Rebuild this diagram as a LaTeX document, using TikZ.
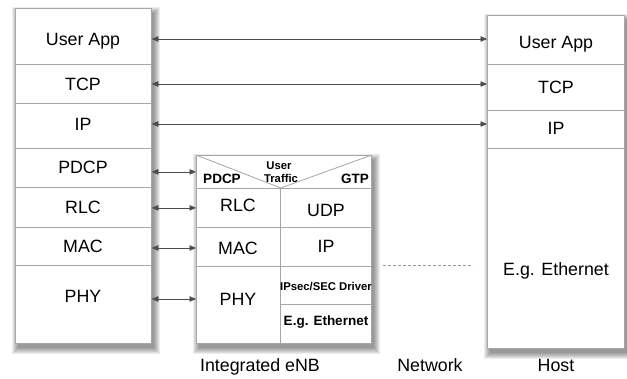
\documentclass[tikz,border=0pt]{standalone}
\usepackage{fontspec}
\setmainfont{Liberation Sans}
\usetikzlibrary{arrows.meta}
\tikzset{
  cell/.style={draw=black!35, fill=white, line width=0.8pt, inner sep=0pt, anchor=north west},
  outer/.style={inner sep=0pt, anchor=north west},
  txt/.style={inner sep=0pt, text height=12.7pt, text depth=0pt, text=black, font=\fontsize{17.8}{20}\selectfont},
  smallb/.style={txt, text height=9.7pt, font=\fontsize{13.5}{15}\selectfont\bfseries},
  tinyb/.style={txt, text height=8.1pt, font=\fontsize{11.3}{13}\selectfont\bfseries},
  arr/.style={{Triangle[length=6.5pt,width=5.5pt]}-{Triangle[length=6.5pt,width=5.5pt]}, draw=black!70, line width=0.6pt},
  divline/.style={draw=black!35, line width=0.8pt},
  netline/.style={draw=black!40, line width=0.8pt, dash pattern=on 3pt off 2pt},
  shadowlayer/.style={fill=black, opacity=0.07}
}
\newcommand\mkbox[6]{\node[#6, minimum width={(#4-#2)*1pt}, minimum height={(#5-#3)*1pt}] (#1) at (#2,#3) {};}
\newcommand\softshadow[1]{%
  \foreach \e in {6,5,4,3,2,1,0}{%
    \fill[shadowlayer] ([xshift={(3-\e)*1pt}, yshift={(-5+\e)*1pt}]#1.north west) rectangle ([xshift={(3+\e)*1pt}, yshift={(-5-\e)*1pt}]#1.south east);
  }}
\begin{document}
\begin{tikzpicture}[x=1pt,y=-1pt]
\useasboundingbox (0,0) rectangle (627,379);
% outer boxes (extent only) and their shadows
\mkbox{lstack}{15}{8}{151}{343}{outer}
\mkbox{enb}{196}{155}{371}{343}{outer}
\mkbox{host}{487}{15}{624}{348}{outer}
\softshadow{lstack}
\softshadow{enb}
\softshadow{host}
% left stack cells
\mkbox{lua}{15}{8}{151}{64}{cell}
\mkbox{ltcp}{15}{64}{151}{103}{cell}
\mkbox{lip}{15}{103}{151}{148}{cell}
\mkbox{lpdcp}{15}{148}{151}{187}{cell}
\mkbox{lrlc}{15}{187}{151}{227}{cell}
\mkbox{lmac}{15}{227}{151}{265}{cell}
\mkbox{lphy}{15}{265}{151}{343}{cell}
% middle cells
\mkbox{mtop}{196}{155}{371}{188}{cell}
\mkbox{mrlc}{196}{188}{280}{227}{cell}
\mkbox{mmac}{196}{227}{280}{266}{cell}
\mkbox{mphy}{196}{266}{280}{343}{cell}
\mkbox{mudp}{280}{188}{371}{227}{cell}
\mkbox{mip}{280}{227}{371}{266}{cell}
\mkbox{mipsec}{280}{266}{371}{304}{cell}
\mkbox{meth}{280}{304}{371}{343}{cell}
\draw[divline] (mtop.north west) -- (mrlc.north east) -- (mtop.north east);
% host cells
\mkbox{rua}{487}{15}{624}{64}{cell}
\mkbox{rtcp}{487}{64}{624}{110}{cell}
\mkbox{rip}{487}{110}{624}{148}{cell}
\mkbox{reth}{487}{148}{624}{348}{cell}
% labels left
\node[txt] (luaL) at (83,39) {User App};
\node[txt] (ltcpL) at (83,84) {TCP};
\node[txt] (lipL) at (83,124) {IP};
\node[txt] (lpdcpL) at (83,167) {PDCP};
\node[txt] (lrlcL) at (83,207) {RLC};
\node[txt] (lmacL) at (83,246) {MAC};
\node[txt] (lphyL) at (83,296) {PHY};
% labels middle
\node[smallb] (mpdcpL) at (222,179) {PDCP};
\node[smallb] (mgtpL) at (355,179) {GTP};
\node[tinyb] (muserL) at (279,165) {User};
\node[tinyb] (mtrafL) at (281,178) {Traffic};
\node[txt] (mrlcL) at (238,205) {RLC};
\node[txt] (mmacL) at (238,248) {MAC};
\node[txt] (mphyL) at (238,299) {PHY};
\node[txt] (mudpL) at (326,210) {UDP};
\node[txt] (mipL) at (326,246) {IP};
\node[tinyb] (mipsecL) at (326,286) {IPsec/SEC Driver};
\node[smallb] (methL) at (326,321) {E.g. Ethernet};
% labels host
\node[txt] (ruaL) at (556,42) {User App};
\node[txt] (rtcpL) at (556,87) {TCP};
\node[txt] (ripL) at (556,128) {IP};
\node[txt] (rethL) at (556,269) {E.g. Ethernet};
% bottom captions
\node[txt] (capenb) at (260,365) {Integrated eNB};
\node[txt] (capnet) at (430,365) {Network};
\node[txt] (caphost) at (556,365) {Host};
% long arrows
\draw[arr] (luaL -| lua.east) -- (luaL -| rua.west);
\draw[arr] (ltcpL -| ltcp.east) -- (ltcpL -| rtcp.west);
\draw[arr] (lipL -| lip.east) -- (lipL -| rip.west);
% short arrows
\draw[arr] (mtop.west -| lpdcp.east) -- (mtop.west);
\draw[arr] (mrlc.west -| lrlc.east) -- (mrlc.west);
\draw[arr] (mmacL -| lmac.east) -- (mmacL -| mmac.west);
\draw[arr] (mphyL -| lphy.east) -- (mphyL -| mphy.west);
% network dashed line
\coordinate (netA) at (383,265);
\coordinate (netB) at (473,265);
\draw[netline] (netA) -- (netB);
\end{tikzpicture}
\end{document}
